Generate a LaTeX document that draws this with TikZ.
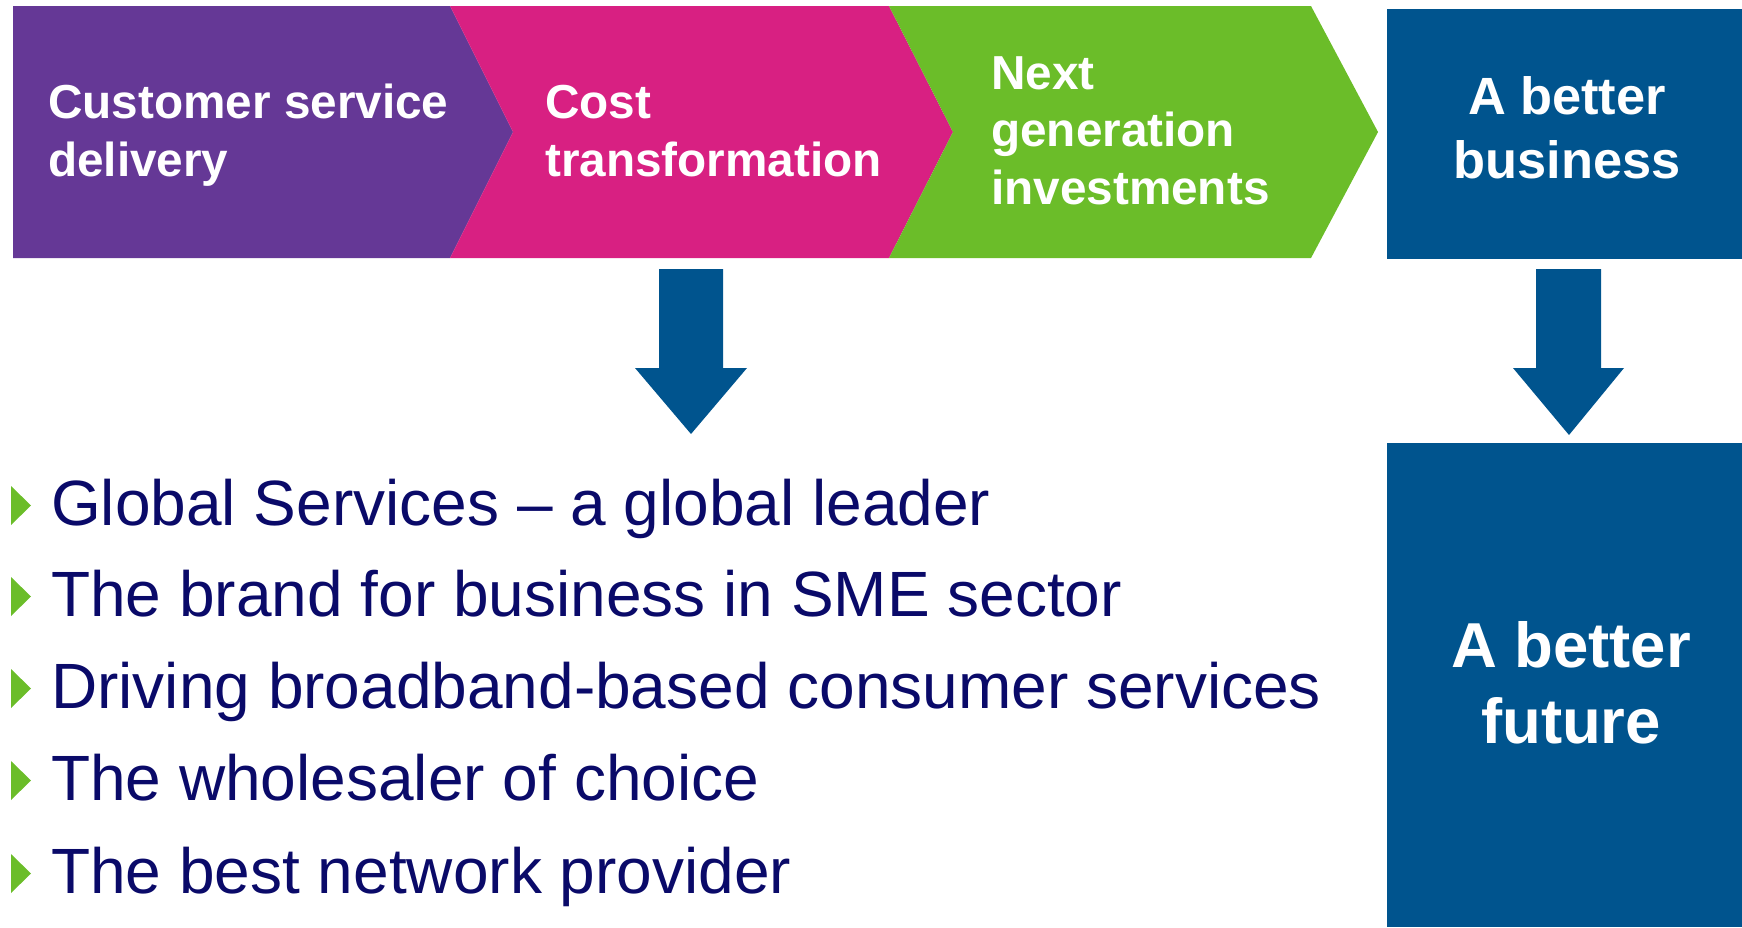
\documentclass[tikz,border=0pt]{standalone}
\usepackage{fontspec}
\setmainfont{Liberation Sans}
\definecolor{cpurple}{RGB}{101,56,150}
\definecolor{cmagenta}{RGB}{216,32,130}
\definecolor{cgreen}{RGB}{107,189,41}
\definecolor{cblue}{RGB}{0,84,142}
\definecolor{cnavy}{RGB}{10,10,105}
\tikzset{
  chevtext/.style={text=white, inner sep=0pt, anchor=base west, font=\fontsize{47.7}{58}\selectfont\bfseries},
  boxtext/.style={text=white, inner sep=0pt, anchor=base, font=\fontsize{52.4}{64}\selectfont\bfseries},
  bigtext/.style={text=white, inner sep=0pt, anchor=base, font=\fontsize{63.5}{76}\selectfont\bfseries},
  bullettext/.style={text=cnavy, inner sep=0pt, anchor=base west, font=\fontsize{64}{76}\selectfont},
  bluebox/.style={fill=cblue, draw=none, inner sep=0pt, anchor=north west},
  blockarrow/.style={fill=cblue, draw=none}
}
\begin{document}
\begin{tikzpicture}[x=1pt,y=-1pt]
\useasboundingbox (0,0) rectangle (1742,927);
% chevrons
\fill[cpurple] (13,6) -- (450,6) -- (513,132) -- (450,258) -- (13,258) -- cycle;
\fill[cmagenta] (450,6) -- (889,6) -- (953,132) -- (889,258) -- (450,258) -- (513,132) -- cycle;
\fill[cgreen] (889,6) -- (1311,6) -- (1378,132) -- (1311,258) -- (889,258) -- (953,132) -- cycle;
% blue boxes
\node[bluebox, minimum width=355pt, minimum height=250pt] (topbox) at (1387,9) {};
\node[bluebox, minimum width=355pt, minimum height=484pt] (botbox) at (1387,443) {};
% block arrows
\fill[blockarrow] (659,269) -- (723,269) -- (723,368) -- (747,368) -- (691,434) -- (635,368) -- (659,368) -- cycle;
\fill[blockarrow] (1536,269) -- (1601,269) -- (1601,368) -- (1624,368) -- (1569,435) -- (1513,368) -- (1536,368) -- cycle;
% chevron labels
\node[chevtext] (c1) at (48,118) {\begin{tabular}[t]{@{}l@{}}Customer service\\delivery\end{tabular}};
\node[chevtext] (c2) at (545,118) {\begin{tabular}[t]{@{}l@{}}Cost\\transformation\end{tabular}};
\node[chevtext, font=\fontsize{47.7}{57.5}\selectfont\bfseries] (c3) at (991,89) {\begin{tabular}[t]{@{}l@{}}Next\\generation\\investments\end{tabular}};
% box labels
\node[boxtext] (b1) at (1567,114) {\begin{tabular}[t]{@{}c@{}}A better\\business\end{tabular}};
\node[bigtext] (b2) at (1571,667) {\begin{tabular}[t]{@{}c@{}}A better\\future\end{tabular}};
% bullets
\foreach \b/\txt [count=\i] in {525/Global Services -- a global leader,
                                616/The brand for business in SME sector,
                                708/Driving broadband-based consumer services,
                                800/The wholesaler of choice,
                                893/The best network provider}{
  \fill[cgreen] (11,\b-39) -- (31,\b-19.5) -- (11,\b) -- cycle;
  \node[bullettext] (l\i) at (51,\b) {\txt};
}
\end{tikzpicture}
\end{document}
